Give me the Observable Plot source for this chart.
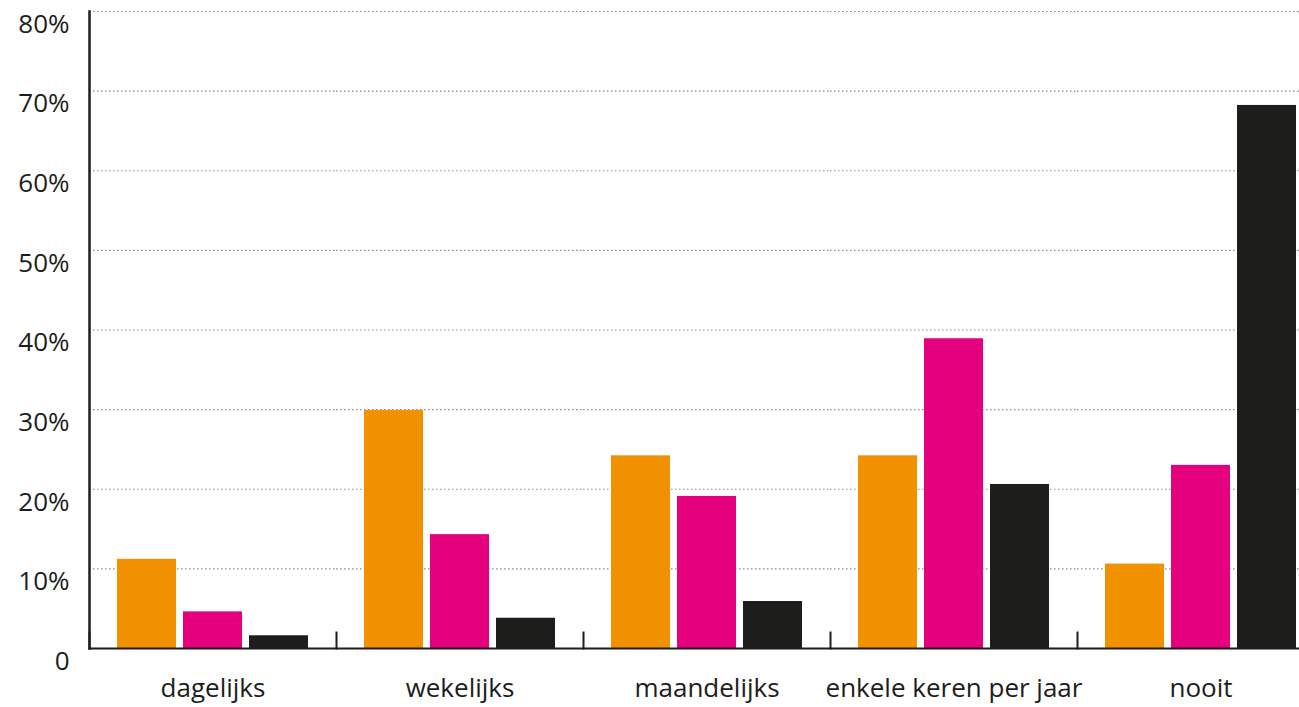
<!DOCTYPE html>
<html>
<head>
<meta charset="utf-8">
<script src="https://cdn.jsdelivr.net/npm/d3@7"></script>
<script src="https://cdn.jsdelivr.net/npm/@observablehq/plot@0.6"></script>
<style>
  html, body { margin: 0; padding: 0; background: #fff; }
  svg { font-family: "Open Sans", sans-serif; }
</style>
</head>
<body>
<div id="chart"></div>
<script>
const categories = ["dagelijks", "wekelijks", "maandelijks", "enkele keren per jaar", "nooit"];
const series = ["reeks 1", "reeks 2", "reeks 3"];
const seriesColors = ["#f29100", "#e5007d", "#1d1d1b"];
const orangeValues = [11.2, 29.9, 24.2, 24.2, 10.6];
const pinkValues = [4.6, 14.3, 19.1, 38.9, 23.0];
const blackValues = [1.6, 3.8, 5.9, 20.6, 68.2];
const yTicks = [0, 10, 20, 30, 40, 50, 60, 70, 80];

const valuesBySeries = [orangeValues, pinkValues, blackValues];
const data = [];
categories.forEach((c, i) => {
  series.forEach((s, j) => data.push({category: c, series: s, value: valuesBySeries[j][i]}));
});

const ink = "#1d1d1b";

const chart = Plot.plot({
  width: 1299,
  height: 707,
  marginLeft: 88,
  marginRight: -25,
  marginTop: 11,
  marginBottom: 59,
  fx: {domain: categories, padding: 0, label: null},
  x: {domain: series, paddingInner: 7 / 66, paddingOuter: 0.424, axis: null},
  y: {domain: [0, 80], label: null},
  color: {domain: series, range: seriesColors},
  marks: [
    Plot.gridY(yTicks.slice(1), {stroke: "#8a8a8a", strokeOpacity: 1, strokeWidth: 1.2, strokeDasharray: "1.5,2.5"}),
    Plot.barY(data, {fx: "category", x: "series", y: "value", fill: "series"}),
    Plot.ruleY([0], {stroke: ink, strokeWidth: 2}),
    Plot.frame({anchor: "left", facetAnchor: "left", stroke: ink, strokeWidth: 2.5}),
    Plot.frame({anchor: "left", insetTop: 621, stroke: ink, strokeWidth: 2}),
    Plot.axisY(yTicks, {
      tickSize: 0, tickPadding: 20, fontSize: 26, dy: 13, fill: ink, letterSpacing: 1,
      tickFormat: d => d === 0 ? "0" : d + "%", label: null
    }),
    Plot.axisFx({anchor: "bottom", tickSize: 0, tickPadding: 30, fontSize: 26, fill: ink, label: null})
  ]
});

document.getElementById("chart").appendChild(chart);
</script>
</body>
</html>
